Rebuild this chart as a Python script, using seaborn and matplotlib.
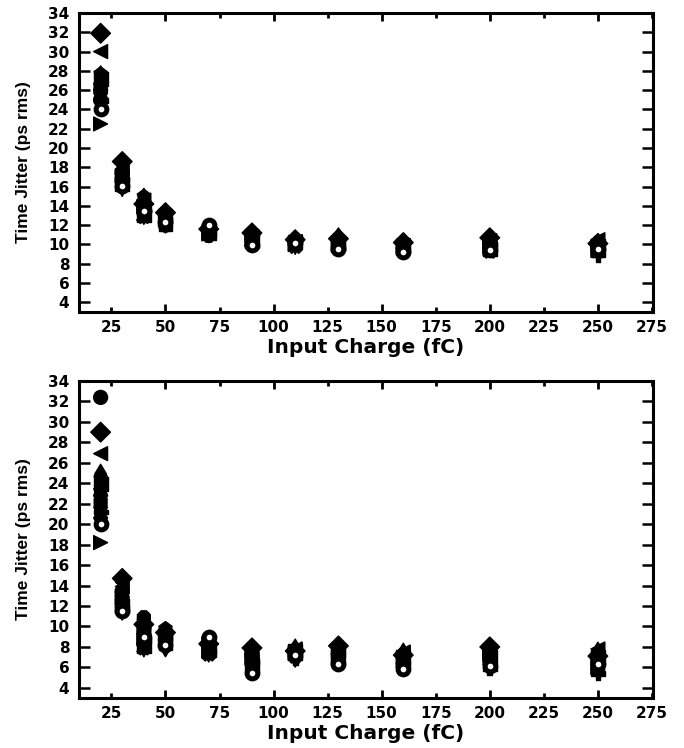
import numpy as np
import pandas as pd
import matplotlib
matplotlib.use("Agg")
import matplotlib.pyplot as plt
import seaborn as sns

charges = [20, 30, 40, 50, 70, 90, 110, 130, 160, 200, 250]
x_major = [50, 100, 150, 200, 250]
x_minor = [25, 75, 125, 175, 225, 275]
y_ticks = list(range(4, 35, 2))
channels = ["ch0", "ch1", "ch2", "ch3", "ch4", "ch5", "ch6", "ch7",
            "ch8", "ch9", "ch10", "ch11", "ch12", "ch13", "ch14", "ch15"]
channel_markers = ["o", "D", "<", ">", "v", "^", "p", "h",
                   "*", "s", "H", "8", "d", "P", "X", "o"]

top_jitter = [
    [24.0, 16.1, 13.5, 12.3, 12.0, 9.9, 10.2, 9.5, 9.2, 9.4, 9.5],
    [31.9, 18.6, 14.2, 13.3, 11.6, 11.2, 10.5, 10.6, 10.2, 10.7, 10.1],
    [30.0, 17.8, 14.6, 12.9, 11.3, 10.8, 10.3, 10.2, 9.9, 10.4, 10.5],
    [22.5, 17.1, 13.9, 12.6, 11.1, 10.5, 10.0, 9.9, 9.7, 9.8, 9.4],
    [25.3, 15.7, 12.8, 11.9, 10.9, 10.3, 9.7, 10.0, 9.5, 9.6, 9.0],
    [26.8, 16.6, 13.2, 13.1, 11.4, 11.0, 10.6, 10.8, 10.0, 10.3, 10.4],
    [27.7, 17.4, 15.0, 13.4, 11.8, 11.3, 10.4, 10.4, 10.3, 10.5, 10.0],
    [26.1, 16.9, 13.7, 12.4, 11.0, 10.1, 10.1, 9.7, 9.4, 9.9, 9.7],
    [24.6, 18.2, 14.4, 12.7, 11.5, 10.7, 9.9, 10.5, 10.1, 10.1, 9.2],
    [27.2, 16.3, 13.0, 12.1, 11.2, 10.4, 10.3, 10.1, 9.8, 9.5, 9.8],
    [25.7, 17.3, 14.0, 13.0, 11.7, 10.9, 10.0, 9.8, 9.6, 10.2, 9.3],
    [26.5, 16.0, 13.3, 12.2, 10.9, 10.0, 10.4, 10.3, 10.2, 9.7, 10.2],
    [27.5, 17.6, 14.8, 12.8, 11.3, 10.6, 10.2, 10.7, 9.9, 10.6, 9.6],
    [24.9, 16.8, 13.6, 12.5, 11.1, 11.1, 10.5, 9.6, 9.5, 10.0, 8.9],
    [26.3, 17.0, 12.9, 13.2, 11.5, 10.2, 9.8, 10.1, 9.3, 9.3, 10.0],
    [25.0, 17.5, 13.8, 12.0, 11.6, 10.6, 10.3, 10.0, 9.6, 10.2, 9.9],
]

bottom_jitter = [
    [20.0, 11.5, 9.0, 8.2, 9.0, 5.4, 7.2, 6.3, 5.8, 6.1, 6.3],
    [29.0, 14.7, 10.2, 9.4, 8.3, 7.9, 7.6, 8.1, 7.2, 8.0, 7.1],
    [26.9, 13.9, 9.6, 9.0, 7.9, 7.3, 7.8, 7.4, 7.5, 7.6, 7.8],
    [18.2, 12.8, 8.8, 8.6, 7.6, 6.9, 7.4, 7.0, 6.6, 7.2, 6.0],
    [21.0, 11.3, 7.7, 7.8, 7.2, 6.4, 6.7, 6.6, 6.2, 6.5, 5.6],
    [23.5, 13.3, 9.9, 9.7, 8.5, 7.6, 7.7, 7.8, 7.1, 7.8, 7.6],
    [24.5, 12.3, 10.5, 9.8, 8.0, 7.1, 7.5, 7.9, 7.3, 7.4, 6.8],
    [22.7, 12.9, 8.4, 8.1, 7.4, 6.7, 7.3, 7.2, 6.8, 6.9, 6.5],
    [21.6, 14.1, 9.3, 9.2, 8.2, 7.7, 7.0, 6.8, 6.4, 6.7, 7.3],
    [23.9, 12.0, 8.1, 8.4, 7.7, 6.2, 7.6, 7.6, 7.0, 7.0, 7.0],
    [20.6, 13.6, 9.7, 8.8, 8.1, 7.4, 7.2, 7.1, 6.0, 6.3, 5.8],
    [22.2, 12.5, 10.9, 9.5, 7.8, 7.0, 7.4, 6.9, 6.9, 7.5, 6.2],
    [24.9, 13.0, 9.1, 8.0, 8.6, 7.5, 7.8, 7.5, 7.4, 6.6, 7.5],
    [21.2, 11.8, 8.6, 8.9, 7.5, 6.5, 6.9, 6.5, 6.3, 5.9, 5.4],
    [23.1, 12.6, 7.9, 9.1, 7.3, 6.8, 7.1, 7.7, 6.7, 7.7, 6.6],
    [32.4, 13.4, 10.0, 8.7, 8.8, 7.2, 7.5, 7.3, 7.2, 7.1, 6.9],
]


def to_long(matrix):
    rows = []
    for ch, vals in zip(channels, matrix):
        for q, v in zip(charges, vals):
            rows.append({"charge": q, "jitter": v, "channel": ch})
    return pd.DataFrame(rows)


sns.set_theme(style="white")
plt.rcParams["font.family"] = ["DejaVu Sans"]
plt.rcParams["font.weight"] = "bold"
plt.rcParams["text.color"] = "black"
plt.rcParams["axes.labelcolor"] = "black"
plt.rcParams["xtick.color"] = "black"
plt.rcParams["ytick.color"] = "black"

fig = plt.figure(figsize=(6.84, 7.48), dpi=100)
ax_top = fig.add_axes([0.1155, 0.5829, 0.8392, 0.3997])
ax_bot = fig.add_axes([0.1155, 0.0668, 0.8392, 0.4238])

open_ch = "ch0"
marker_map = dict(zip(channels, channel_markers))

for ax, matrix in [(ax_top, top_jitter), (ax_bot, bottom_jitter)]:
    df = to_long(matrix)
    filled = df[df["channel"] != open_ch]
    sns.scatterplot(data=filled, x="charge", y="jitter", style="channel",
                    markers={k: v for k, v in marker_map.items() if k != open_ch},
                    color="black", edgecolor="black", linewidth=1.0, s=100,
                    legend=False, ax=ax, zorder=3)
    opened = df[df["channel"] == open_ch]
    sns.scatterplot(data=opened, x="charge", y="jitter", marker="o",
                    facecolor="white", edgecolor="black", linewidth=3.6, s=60,
                    legend=False, ax=ax, zorder=4)

    ax.set_xlim(10, 275.5)
    ax.set_ylim(3, 34)
    ax.set_xticks(x_major)
    ax.set_xticks(x_minor, minor=True)
    ax.set_xticklabels([str(t) for t in x_major])
    ax.set_xticklabels([str(t) for t in x_minor], minor=True)
    ax.set_yticks(y_ticks)
    ax.set_yticklabels([str(t) for t in y_ticks])
    ax.tick_params(axis="x", which="major", direction="in", length=6, width=2,
                   top=True, bottom=True, labelsize=11, pad=6, colors="black")
    ax.tick_params(axis="x", which="minor", direction="in", length=3.5, width=2,
                   top=True, bottom=True, labelsize=11, pad=6, colors="black")
    ax.tick_params(axis="y", which="major", direction="in", length=8, width=1.8,
                   left=True, right=True, labelsize=11, pad=7, colors="black")
    for lab in ax.get_xticklabels(which="both") + ax.get_yticklabels():
        lab.set_fontweight("bold")
    for sp in ax.spines.values():
        sp.set_linewidth(2.2)
        sp.set_color("black")
    ax.set_xlabel("Input Charge (fC)", fontsize=14.5, fontweight="bold",
                  labelpad=2, color="black")
    ax.set_ylabel("Time Jitter (ps rms)", fontsize=12.5, fontweight="bold",
                  labelpad=12, color="black",
                  family=["Liberation Sans", "DejaVu Sans"])
    ax.grid(False)

fig.savefig("out.png", dpi=100, facecolor="white")
